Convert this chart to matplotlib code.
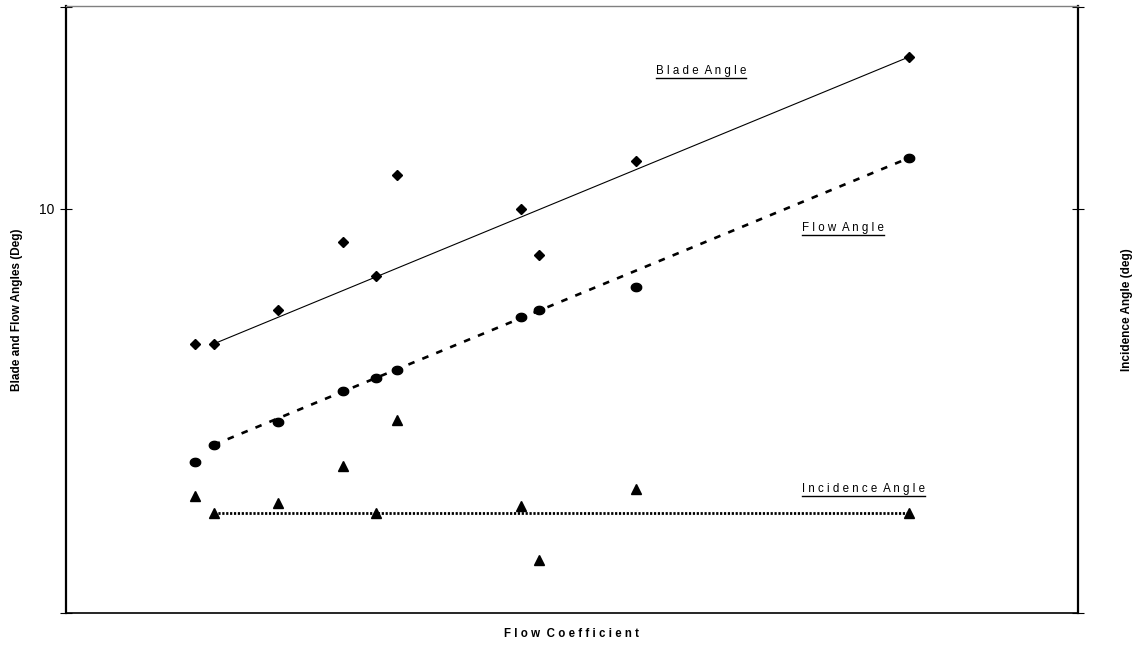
import matplotlib.pyplot as plt
import numpy as np
from matplotlib.lines import Line2D

plt.rcParams['font.family'] = ['Liberation Sans', 'DejaVu Sans']

# flow coefficient (arbitrary units)
flowCoef = np.array([0.127, 0.146, 0.209, 0.274, 0.306, 0.327, 0.450, 0.467, 0.563, 0.833])
bladeAngle = np.array([6.66, 6.66, 7.50, 9.18, 8.34, 10.84, 10.00, 8.86, 11.19, 13.76])
flowAngle = np.array([3.74, 4.16, 4.73, 5.50, 5.82, 6.01, 7.33, 7.50, 8.07, 11.26])
incidenceAngle = np.array([2.90, 2.48, 2.72, 3.64, 2.48, 4.78, 2.65, 1.31, 3.07, 2.48])

yTicks = [0, 10, 15]
yTickLabels = ['', '10', '']

# slightly flattened circle, like the original marker
t = np.linspace(0, 2*np.pi, 40)
ellipse = np.column_stack([np.cos(t), 0.8*np.sin(t)])

fig = plt.figure(figsize=(11.37, 6.45), dpi=100)
ax = fig.add_axes([66/1137, 32/645, 1012/1137, 607/645])
ax.set_xlim(0, 1)
ax.set_ylim(0, 15.02)

# trend lines drawn between second and last sample
ends = [1, -1]
ax.plot(flowCoef[ends], bladeAngle[ends], color='black', lw=0.8)
ax.plot(flowCoef[ends], flowAngle[ends], color='black', lw=1.9, linestyle=(0, (2.5, 3.2)))
ax.plot(flowCoef[ends], incidenceAngle[ends], color='black', lw=2.0, linestyle=(0, (0.8, 0.6)))

ax.plot(flowCoef, bladeAngle, 'D', color='black', ms=4.8, ls='none')
ax.plot(flowCoef, flowAngle, marker=ellipse, color='black', ms=7.5, ls='none')
ax.plot(flowCoef, incidenceAngle, '^', color='black', ms=6.8, ls='none')

ax.set_xticks([])
ax.set_yticks(yTicks)
ax.set_yticklabels(yTickLabels, fontsize=10)
ax.tick_params(axis='y', direction='inout', length=9, width=0.8, right=True, pad=4)

for side in ['left', 'right']:
    ax.spines[side].set_linewidth(1.6)
ax.spines['bottom'].set_linewidth(1.2)
ax.spines['top'].set_color('#808080')
ax.spines['top'].set_linewidth(1.0)

fig.text(17/1137, 1 - 310/645, 'Blade and Flow Angles (Deg)', rotation=90,
         ha='center', va='center', fontsize=8.5, fontweight='bold')
fig.text(1127/1137, 1 - 310/645, 'Incidence Angle (deg)', rotation=90,
         ha='center', va='center', fontsize=8.5, fontweight='bold')
fig.text(572/1137, 1 - 634/645, 'F l o w  C o e f f i c i e n t', ha='center', va='center',
         fontsize=8.3, fontweight='bold')

labels = [('B l a d e  A n g l e', 656, 71), ('F l o w  A n g l e', 802, 228),
          ('I n c i d e n c e  A n g l e', 802, 489)]
fig.canvas.draw()
renderer = fig.canvas.get_renderer()
for txt, px, py in labels:
    tx = fig.text(px/1137, 1 - py/645, txt, ha='left', va='center', fontsize=8.3)
    bb = tx.get_window_extent(renderer)
    yLine = (bb.y0 - 1) / 645
    fig.add_artist(Line2D([bb.x0/1137, bb.x1/1137], [yLine, yLine],
                          color='black', lw=1.0, transform=fig.transFigure))

fig.savefig('out.png', dpi=100)
